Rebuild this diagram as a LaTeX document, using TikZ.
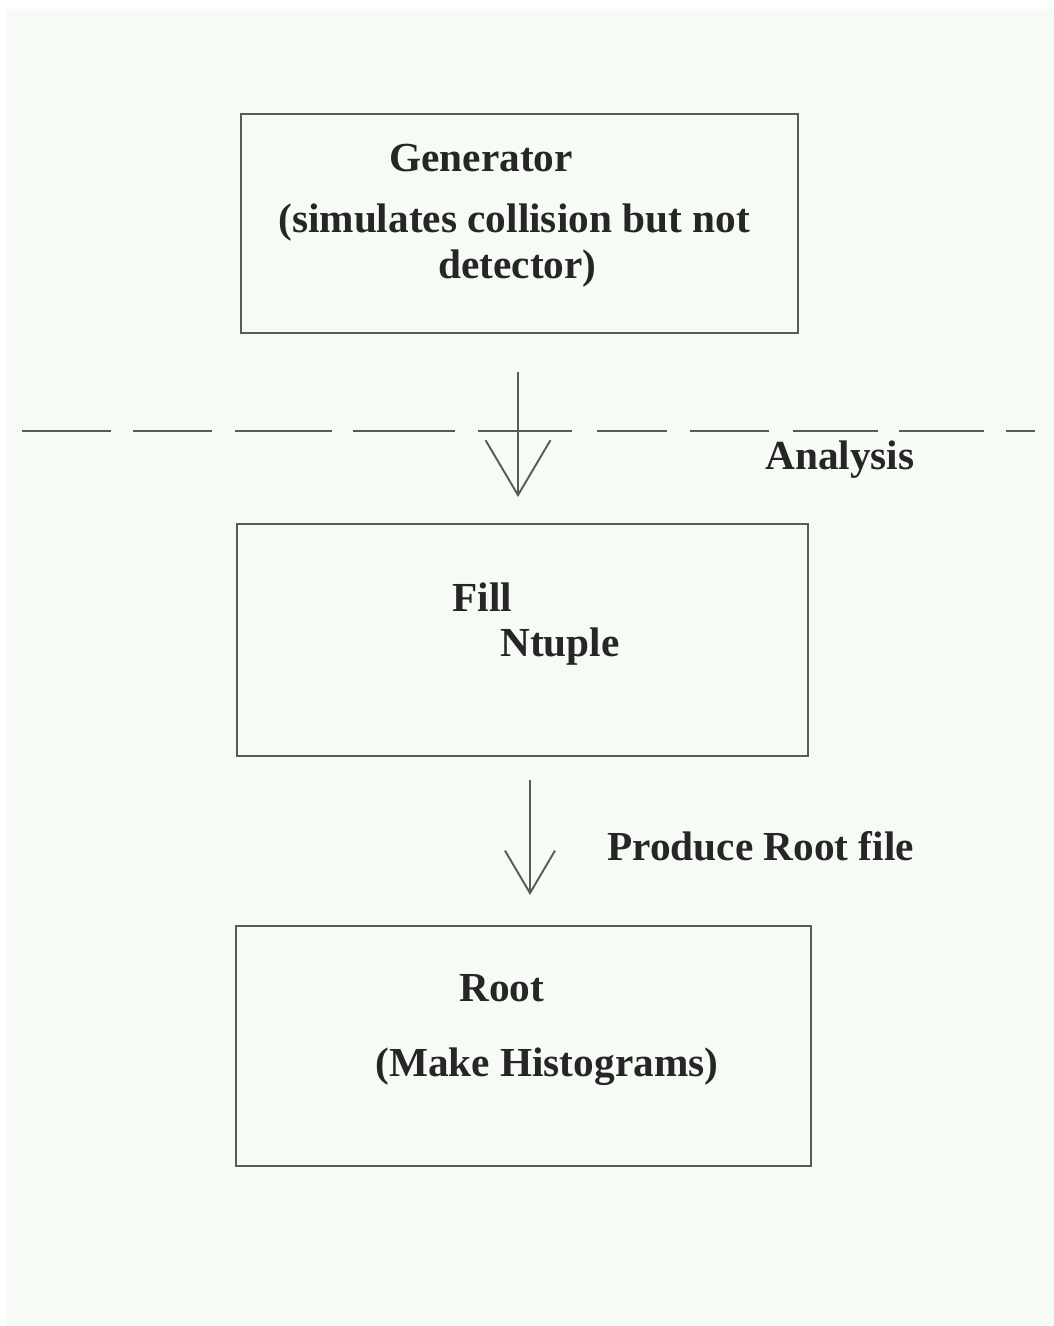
\documentclass[tikz,border=0pt]{standalone}
\usepackage{fontspec}
\setmainfont{Liberation Serif}
\usetikzlibrary{arrows.meta}
\definecolor{paper}{HTML}{F7FBF6}
\definecolor{ink}{HTML}{5A5A5A}

\begin{document}
\begin{tikzpicture}[x=0.02cm, y=-0.02cm,
  box/.style={draw=ink, line width=1.1pt, rectangle, inner sep=0pt},
  lbl/.style={anchor=base west, inner sep=0pt, font=\fontsize{23.5}{27}\selectfont\bfseries, text=black!85}]
  \useasboundingbox (0,0) rectangle (1054,1326);
  \fill[paper] (7,9) rectangle (1054,1326);

  \node[box, minimum width=11.14cm, minimum height=4.38cm] (gen) at (519.5,223.5) {};
  \node[box, minimum width=11.42cm, minimum height=4.64cm] (fill) at (522.5,640) {};
  \node[box, minimum width=11.5cm, minimum height=4.8cm] (root) at (523.5,1046) {};

  \node[lbl] (gentitle) at (389,171) {Generator};
  \node[lbl] (gentext) at (278,232) {(simulates collision but not};
  \node[lbl] (gentext2) at (438,278) {detector)};
  \node[lbl] (ana) at (765,469) {Analysis};
  \node[lbl] (filltitle) at (452,611) {Fill};
  \node[lbl] (filltext) at (500,656) {Ntuple};
  \node[lbl] (prod) at (607,860) {Produce Root file};
  \node[lbl] (roottitle) at (459,1001) {Root};
  \node[lbl] (roottext) at (375,1076) {(Make Histograms)};

  % cut between generator and analysis
  \foreach \a/\b in {22/111, 133/212, 235/332, 353/455, 478/572, 597/667, 690/769, 793/878, 899/984, 1006/1035}
    \draw[ink, line width=1.1pt] (\a,431) -- (\b,431);

  \coordinate (a1s) at (518,372);
  \coordinate (a1e) at (518,497);
  \coordinate (a2s) at (530,780);
  \coordinate (a2e) at (530,895);
  \draw[ink, line width=1.1pt, -{Straight Barb[length=1.1cm, width=1.3cm]}] (a1s) -- (a1e);
  \draw[ink, line width=1.1pt, -{Straight Barb[length=0.85cm, width=1.0cm]}] (a2s) -- (a2e);
\end{tikzpicture}
\end{document}
